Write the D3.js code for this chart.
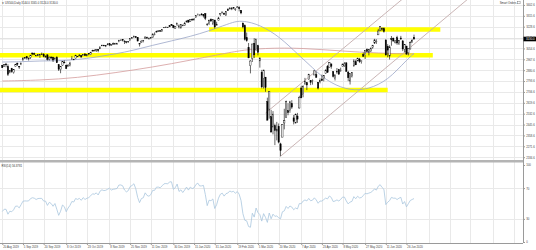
<!DOCTYPE html>
<html>
<head>
<meta charset="utf-8">
<script src="https://cdn.jsdelivr.net/npm/d3@7"></script>
<style>
  body { margin: 0; background: #fff; }
  svg { display: block; font-family: "Liberation Sans", Arial, sans-serif; }
</style>
</head>
<body>
<script>
// données : US500 journalier (bougies)
const dates = [
  "20 Aug 2019","21 Aug 2019","22 Aug 2019","23 Aug 2019","26 Aug 2019","27 Aug 2019","28 Aug 2019","29 Aug 2019","30 Aug 2019",
  "3 Sep 2019","4 Sep 2019","5 Sep 2019","6 Sep 2019","9 Sep 2019","10 Sep 2019","11 Sep 2019","12 Sep 2019","13 Sep 2019","16 Sep 2019","17 Sep 2019","18 Sep 2019","19 Sep 2019","20 Sep 2019","23 Sep 2019","24 Sep 2019","25 Sep 2019","26 Sep 2019","27 Sep 2019","30 Sep 2019",
  "1 Oct 2019","2 Oct 2019","3 Oct 2019","4 Oct 2019","7 Oct 2019","8 Oct 2019","9 Oct 2019","10 Oct 2019","11 Oct 2019","14 Oct 2019","15 Oct 2019","16 Oct 2019","17 Oct 2019","18 Oct 2019","21 Oct 2019","22 Oct 2019","23 Oct 2019","24 Oct 2019","25 Oct 2019","28 Oct 2019","29 Oct 2019","30 Oct 2019","31 Oct 2019",
  "1 Nov 2019","4 Nov 2019","5 Nov 2019","6 Nov 2019","7 Nov 2019","8 Nov 2019","11 Nov 2019","12 Nov 2019","13 Nov 2019","14 Nov 2019","15 Nov 2019","18 Nov 2019","19 Nov 2019","20 Nov 2019","21 Nov 2019","22 Nov 2019","25 Nov 2019","26 Nov 2019","27 Nov 2019","29 Nov 2019",
  "2 Dec 2019","3 Dec 2019","4 Dec 2019","5 Dec 2019","6 Dec 2019","9 Dec 2019","10 Dec 2019","11 Dec 2019","12 Dec 2019","13 Dec 2019","16 Dec 2019","17 Dec 2019","18 Dec 2019","19 Dec 2019","20 Dec 2019","23 Dec 2019","24 Dec 2019","26 Dec 2019","27 Dec 2019","30 Dec 2019","31 Dec 2019",
  "2 Jan 2020","3 Jan 2020","6 Jan 2020","7 Jan 2020","8 Jan 2020","9 Jan 2020","10 Jan 2020","13 Jan 2020","14 Jan 2020","15 Jan 2020","16 Jan 2020","17 Jan 2020","21 Jan 2020","22 Jan 2020","23 Jan 2020","24 Jan 2020","27 Jan 2020","28 Jan 2020","29 Jan 2020","30 Jan 2020","31 Jan 2020",
  "3 Feb 2020","4 Feb 2020","5 Feb 2020","6 Feb 2020","7 Feb 2020","10 Feb 2020","11 Feb 2020","12 Feb 2020","13 Feb 2020","14 Feb 2020","18 Feb 2020","19 Feb 2020","20 Feb 2020","21 Feb 2020","24 Feb 2020","25 Feb 2020","26 Feb 2020","27 Feb 2020","28 Feb 2020",
  "2 Mar 2020","3 Mar 2020","4 Mar 2020","5 Mar 2020","6 Mar 2020","9 Mar 2020","10 Mar 2020","11 Mar 2020","12 Mar 2020","13 Mar 2020","16 Mar 2020","17 Mar 2020","18 Mar 2020","19 Mar 2020","20 Mar 2020","23 Mar 2020","24 Mar 2020","25 Mar 2020","26 Mar 2020","27 Mar 2020","30 Mar 2020","31 Mar 2020",
  "1 Apr 2020","2 Apr 2020","3 Apr 2020","6 Apr 2020","7 Apr 2020","8 Apr 2020","9 Apr 2020","13 Apr 2020","14 Apr 2020","15 Apr 2020","16 Apr 2020","17 Apr 2020","20 Apr 2020","21 Apr 2020","22 Apr 2020","23 Apr 2020","24 Apr 2020","27 Apr 2020","28 Apr 2020","29 Apr 2020","30 Apr 2020",
  "1 May 2020","4 May 2020","5 May 2020","6 May 2020","7 May 2020","8 May 2020","11 May 2020","12 May 2020","13 May 2020","14 May 2020","15 May 2020","18 May 2020","19 May 2020","20 May 2020","21 May 2020","22 May 2020","26 May 2020","27 May 2020","28 May 2020","29 May 2020",
  "1 Jun 2020","2 Jun 2020","3 Jun 2020","4 Jun 2020","5 Jun 2020","8 Jun 2020","9 Jun 2020","10 Jun 2020","11 Jun 2020","12 Jun 2020","15 Jun 2020","16 Jun 2020","17 Jun 2020","18 Jun 2020","19 Jun 2020","22 Jun 2020","23 Jun 2020","24 Jun 2020","25 Jun 2020","26 Jun 2020","29 Jun 2020","30 Jun 2020",
  "1 Jul 2020","2 Jul 2020"
]

const opens = [
  2919,2912,2930,2911,2866,2893,2861,2910,2937,
  2909,2924,2961,2980,2989,2971,2982,3018,3013,2997,2995,3002,3010,3008,2984,3003,2969,2986,2985,2968,
  2984,2924,2885,2918,2945,2920,2912,2918,2964,2966,2974,2990,3001,2997,2997,3011,2995,3014,3004,3032,3036,3039,3047,
  3051,3078,3080,3075,3088,3082,3081,3089,3084,3091,3108,3118,3128,3114,3108,3112,3117,3135,3145,3148,
  3143,3087,3103,3119,3135,3141,3135,3136,3141,3167,3183,3195,3196,3192,3224,3226,3225,3227,3247,3240,3215,
  3245,3226,3218,3241,3238,3266,3281,3271,3285,3282,3302,3324,3321,3330,3315,3334,3247,3255,3289,3256,3282,
  3236,3280,3324,3344,3335,3319,3365,3370,3365,3379,3369,3380,3380,3360,3258,3238,3140,3063,2916,
  2974,3096,3045,3076,2955,2864,2814,2825,2630,2569,2509,2426,2436,2394,2431,2291,2345,2458,2501,2556,2559,2614,
  2499,2458,2514,2578,2738,2685,2776,2782,2805,2796,2799,2842,2845,2784,2787,2810,2812,2854,2909,2901,2931,
  2869,2815,2869,2884,2879,2909,2915,2939,2865,2794,2829,2913,2948,2954,2970,2948,3005,3004,3046,3025,
  3032,3064,3098,3112,3163,3199,3213,3213,3123,3071,2994,3132,3137,3101,3140,3095,3138,3115,3047,3074,3019,3050,
  3105,3144
]

const highs = [
  2923,2928,2939,2928,2880,2899,2890,2931,2940,
  2914,2939,2986,2985,2990,2979,3001,3020,3021,3003,3007,3008,3022,3017,2999,3008,2990,2990,2988,2984,
  2993,2925,2911,2953,2959,2926,2930,2948,2993,2972,3004,2994,3009,3001,3008,3014,3005,3016,3028,3044,3047,3050,3047,
  3067,3085,3084,3079,3098,3094,3088,3102,3099,3097,3121,3125,3128,3119,3110,3113,3134,3142,3154,3150,
  3145,3094,3120,3120,3150,3149,3143,3144,3176,3183,3197,3198,3198,3206,3226,3228,3226,3240,3248,3241,3232,
  3258,3247,3247,3245,3267,3276,3283,3288,3295,3298,3317,3330,3329,3337,3327,3334,3258,3286,3294,3286,3282,
  3268,3307,3337,3347,3341,3352,3376,3381,3386,3381,3375,3394,3392,3360,3260,3247,3182,3098,2960,
  3091,3137,3130,3084,2985,2883,2883,2825,2661,2711,2563,2553,2453,2467,2454,2300,2450,2572,2637,2616,2635,2641,
  2522,2534,2539,2676,2756,2760,2819,2782,2852,2801,2807,2880,2868,2785,2815,2845,2842,2888,2922,2945,2931,
  2869,2845,2898,2891,2901,2932,2945,2944,2875,2852,2865,2968,2965,2981,2979,2957,3022,3037,3055,3050,
  3063,3081,3131,3128,3211,3233,3223,3223,3123,3089,3080,3154,3141,3121,3156,3122,3155,3120,3086,3074,3054,3112,
  3129,3165
]

const lows = [
  2899,2911,2904,2834,2856,2860,2853,2910,2914,
  2891,2921,2961,2972,2966,2958,2971,3001,3004,2991,2994,2979,3003,2984,2983,2958,2958,2966,2946,2968,
  2938,2874,2856,2914,2935,2892,2908,2911,2963,2962,2974,2986,2992,2981,2995,2996,2993,3000,3001,3032,3034,3026,3024,
  3051,3074,3072,3065,3080,3073,3076,3085,3083,3082,3104,3115,3111,3090,3095,3098,3117,3131,3143,3139,
  3110,3070,3102,3103,3134,3135,3125,3133,3138,3159,3183,3191,3191,3191,3217,3221,3220,3227,3235,3216,3213,
  3235,3214,3215,3232,3236,3263,3261,3268,3278,3280,3302,3318,3316,3320,3302,3281,3235,3243,3271,3242,3214,
  3236,3280,3313,3334,3322,3317,3355,3369,3361,3369,3355,3379,3351,3328,3215,3118,3108,2977,2855,
  2946,2977,3035,2999,2901,2735,2734,2708,2478,2493,2380,2367,2281,2319,2295,2192,2345,2407,2500,2520,2540,2571,
  2447,2455,2459,2574,2657,2664,2762,2721,2805,2761,2765,2842,2821,2727,2775,2794,2791,2852,2860,2901,2892,
  2822,2798,2852,2847,2867,2908,2908,2870,2793,2766,2822,2913,2922,2954,2939,2933,2988,2970,3022,2999,
  3031,3052,3090,3091,3163,3193,3193,3181,2999,2984,2966,3076,3109,3094,3084,3082,3122,3033,3024,3005,2999,3047,
  3101,3124
]

const closes = [
  2900,2924,2923,2847,2878,2869,2888,2925,2927,
  2906,2938,2976,2979,2978,2979,3001,3010,3007,2998,3006,3007,3007,2992,2992,2967,2985,2978,2962,2977,
  2940,2888,2911,2952,2939,2893,2919,2938,2970,2966,2996,2990,2998,2986,3007,2996,3005,3010,3023,3039,3037,3047,3038,
  3067,3078,3075,3077,3085,3093,3087,3092,3094,3097,3121,3122,3120,3109,3104,3110,3134,3141,3154,3141,
  3114,3093,3113,3117,3146,3136,3133,3142,3169,3169,3192,3193,3191,3205,3221,3224,3223,3240,3240,3221,3231,
  3258,3235,3246,3237,3253,3275,3265,3288,3283,3289,3317,3330,3321,3322,3326,3296,3244,3276,3273,3284,3226,
  3249,3298,3335,3346,3328,3352,3358,3379,3374,3380,3370,3386,3373,3338,3226,3128,3116,2979,2954,
  3090,3003,3130,3024,2972,2747,2882,2741,2481,2711,2386,2529,2398,2409,2305,2237,2447,2476,2630,2541,2627,2585,
  2471,2527,2489,2664,2659,2750,2790,2762,2846,2783,2800,2875,2823,2737,2799,2798,2837,2879,2863,2940,2912,
  2831,2843,2868,2848,2881,2930,2930,2870,2820,2853,2864,2954,2923,2972,2949,2955,2992,3036,3030,3044,
  3056,3081,3123,3112,3194,3232,3207,3190,3002,3041,3067,3125,3114,3115,3098,3118,3131,3050,3084,3009,3053,3100,
  3116,3130
]

// clôtures avant le début du graphique (pour le RSI)
const closesAvant = [3013.2,2980.4,2953.6,2932.1,2844.7,2881.8,2884.0,2938.1,2918.7,2882.7,2926.3,2840.6,2847.6,2888.7,2923.7]

// moyennes mobiles (indice de barre, prix)
const maBleueIdx = [0,10,20,30,40,50,60,70,80,90,100,110,120,125,130,135,140,145,150,155,160,165,170,175,180,185,190,195,200,205,210,215,219]
const maBleueVal = [2946,2948,2955,2955,2965,2985,3010,3040,3080,3115,3150,3195,3250,3275,3270,3250,3215,3170,3110,3040,2970,2900,2830,2780,2745,2725,2722,2735,2765,2810,2880,2960,3015]
const maRougeIdx = [0,20,40,60,80,100,120,130,140,150,160,170,180,190,200,210,219]
const maRougeVal = [2794,2800,2820,2860,2905,2960,3020,3045,3055,3058,3055,3045,3035,3025,3018,3012,3010]

// niveaux jaunes (prix, barre de début, barre de fin)
const niveauxPrix = [3206, 3000, 2722]
const niveauxDebut = [110, -3, -3]
const niveauxFin = [233, 229, 205]

// canal haussier (barre, prix)
const canalBas = [[148, 2192], [190, 2722]]
const canalHaut = [[140, 2537], [182, 3063]]

// graduations
const prixTicks = [3402.6,3315.6,3228.6,3141.6,3054.6,2967.6,2880.6,2793.6,2706.6,2619.6,2532.6,2445.6,2358.6,2271.6,2184.6]
const rsiTicks = [0, 30, 70, 100]
const datesTicks = ["20 Aug 2019","5 Sep 2019","20 Sep 2019","8 Oct 2019","23 Oct 2019","8 Nov 2019","25 Nov 2019","11 Dec 2019","30 Dec 2019","15 Jan 2020","31 Jan 2020","19 Feb 2020","5 Mar 2020","20 Mar 2020","7 Apr 2020","23 Apr 2020","8 May 2020","27 May 2020","11 Jun 2020","26 Jun 2020"]
const grilleFutur = [227, 238, 249, 261, 272]


//Dimensions
let width = 536, height = 250
let droite = 523
let prixHaut = 0, prixBas = 158
let rsiHaut = 165, rsiBas = 242
let axeBas = 243

let svg = d3.select("body")
    .append("svg")
    .attr("width", width)
    .attr("height", height)

const n = closes.length
const barres = d3.range(n)

//Echelles
let x = d3.scaleLinear()
    .domain([0, n - 1])
    .range([2.3, 414])

let y = d3.scaleLinear()
    .domain([2178, 3442])
    .range([prixBas, prixHaut])

let yRsi = d3.scaleLinear()
    .domain([0, 100])
    .range([rsiBas, rsiHaut])

//Calcul du RSI(14), lissage de Wilder
const toutes = closesAvant.concat(closes)
let moyG = 0, moyP = 0
for (let k = 1; k <= 14; k++) {
    let dif = toutes[k] - toutes[k - 1]
    if (dif > 0) moyG += dif; else moyP -= dif
}
moyG /= 14; moyP /= 14
const rsi = []
for (let k = 15; k < toutes.length; k++) {
    let dif = toutes[k] - toutes[k - 1]
    moyG = (moyG * 13 + Math.max(dif, 0)) / 14
    moyP = (moyP * 13 + Math.max(-dif, 0)) / 14
    rsi.push(moyP === 0 ? 100 : 100 - 100 / (1 + moyG / moyP))
}

let defs = svg.append("defs")
defs.append("clipPath").attr("id", "clipPrix")
    .append("rect").attr("x", 0).attr("y", prixHaut).attr("width", droite).attr("height", prixBas - prixHaut)
defs.append("clipPath").attr("id", "clipRsi")
    .append("rect").attr("x", 0).attr("y", rsiHaut - 2).attr("width", droite).attr("height", rsiBas - rsiHaut + 3)

const tickIdx = datesTicks.map(d => dates.indexOf(d))
const grilleX = tickIdx.concat(grilleFutur)

//Grille
let grille = svg.append("g").attr("stroke", "#e9e9e9").attr("stroke-width", 1).attr("shape-rendering", "crispEdges")
grille.selectAll("v").data(grilleX).enter().append("line")
    .attr("x1", d => Math.round(x(d)) + 0.5).attr("x2", d => Math.round(x(d)) + 0.5)
    .attr("y1", prixHaut).attr("y2", axeBas)
grille.selectAll("h").data(prixTicks).enter().append("line")
    .attr("x1", 0).attr("x2", droite)
    .attr("y1", d => Math.round(y(d)) + 0.5).attr("y2", d => Math.round(y(d)) + 0.5)
grille.selectAll("hr").data([30, 70]).enter().append("line")
    .attr("x1", 0).attr("x2", droite)
    .attr("y1", d => Math.round(yRsi(d)) + 0.5).attr("y2", d => Math.round(yRsi(d)) + 0.5)

let prix = svg.append("g").attr("clip-path", "url(#clipPrix)")

//Niveaux jaunes
prix.selectAll("niveaux").data(niveauxPrix).enter().append("line")
    .attr("x1", (d, i) => x(niveauxDebut[i]))
    .attr("x2", (d, i) => x(niveauxFin[i]))
    .attr("y1", d => y(d)).attr("y2", d => y(d))
    .attr("stroke", "#ffff00")
    .attr("stroke-width", 4.5)

//Ligne du prix actuel
prix.append("line")
    .attr("x1", 0).attr("x2", droite)
    .attr("y1", y(closes[n - 1])).attr("y2", y(closes[n - 1]))
    .attr("stroke", "#d8d8d8").attr("stroke-width", 0.6)

//Canal
function demiDroite(pts) {
    let pente = (pts[1][1] - pts[0][1]) / (pts[1][0] - pts[0][0])
    let fin = pts[0][0] + 140
    return [x(pts[0][0]), y(pts[0][1]), x(fin), y(pts[0][1] + pente * 140)]
}
prix.selectAll("canal").data([canalBas, canalHaut]).enter().append("line")
    .attr("x1", d => demiDroite(d)[0]).attr("y1", d => demiDroite(d)[1])
    .attr("x2", d => demiDroite(d)[2]).attr("y2", d => demiDroite(d)[3])
    .attr("stroke", "#c4adad").attr("stroke-width", 0.9)

//Moyennes mobiles
let ligneMa = d3.line().x(d => x(d[0])).y(d => y(d[1])).curve(d3.curveBasis)
prix.append("path")
    .datum(maRougeIdx.map((d, i) => [d, maRougeVal[i]]))
    .attr("d", ligneMa).attr("fill", "none")
    .attr("stroke", "#d49c9c").attr("stroke-width", 0.8)
prix.append("path")
    .datum(maBleueIdx.map((d, i) => [d, maBleueVal[i]]))
    .attr("d", ligneMa).attr("fill", "none")
    .attr("stroke", "#9aa6c8").attr("stroke-width", 0.8)

//Bougies
prix.selectAll("meches").data(barres).enter().append("line")
    .attr("x1", i => x(i)).attr("x2", i => x(i))
    .attr("y1", i => y(highs[i])).attr("y2", i => y(lows[i]))
    .attr("stroke", "#000").attr("stroke-width", 0.6)
prix.selectAll("corps").data(barres).enter().append("rect")
    .attr("x", i => x(i) - 0.65)
    .attr("width", 1.3)
    .attr("y", i => y(Math.max(opens[i], closes[i])))
    .attr("height", i => Math.max(0.4, Math.abs(y(opens[i]) - y(closes[i]))))
    .attr("fill", i => closes[i] >= opens[i] ? "#fff" : "#000")
    .attr("stroke", "#000").attr("stroke-width", 0.4)

//RSI
svg.append("path")
    .datum(rsi)
    .attr("clip-path", "url(#clipRsi)")
    .attr("d", d3.line().x((d, i) => x(i)).y(d => yRsi(d)))
    .attr("fill", "none")
    .attr("stroke", "#a9c7de").attr("stroke-width", 0.8)

//Séparateur et bordures
svg.append("rect").attr("x", 0).attr("y", 160).attr("width", droite).attr("height", 2.5).attr("fill", "#b4b4b4")
svg.append("line").attr("x1", 0).attr("x2", droite).attr("y1", axeBas + 0.5).attr("y2", axeBas + 0.5)
    .attr("stroke", "#9a9a9a").attr("stroke-width", 1)

//Axes
function styleAxe(g) {
    g.select(".domain").attr("stroke", "#9a9a9a")
    g.selectAll(".tick line").attr("stroke", "#9a9a9a")
    g.selectAll("text").style("font-size", "2.8px").attr("fill", "#444")
}

svg.append("g")
    .attr("transform", "translate(" + (droite + 0.5) + ",0)")
    .call(d3.axisRight(y).tickValues(prixTicks).tickSize(1.5).tickPadding(1.2).tickFormat(d3.format(".1f")))
    .call(g => g.select(".domain").attr("d", "M0," + prixHaut + "V" + (prixBas + 2)))
    .call(styleAxe)

svg.append("g")
    .attr("transform", "translate(" + (droite + 0.5) + ",0)")
    .call(d3.axisRight(yRsi).tickValues(rsiTicks).tickSize(1.5).tickPadding(1.2).tickFormat(d3.format("d")))
    .call(g => g.select(".domain").attr("d", "M0," + 160 + "V" + axeBas))
    .call(styleAxe)

svg.append("g")
    .attr("transform", "translate(0," + (axeBas + 0.5) + ")")
    .call(d3.axisBottom(x).tickValues(tickIdx).tickSize(1.5).tickPadding(1).tickFormat(i => dates[i]))
    .call(g => g.select(".domain").remove())
    .call(styleAxe)
    .selectAll("text")
    .attr("text-anchor", "start")
    .attr("dx", "0.4")

//Etiquette du prix actuel
let dernier = closes[n - 1]
svg.append("rect")
    .attr("x", droite + 0.5).attr("y", y(dernier) - 2.3)
    .attr("width", width - droite).attr("height", 4.6)
    .attr("fill", "#000")
svg.append("text")
    .text(dernier.toFixed(1))
    .attr("x", droite + 3).attr("y", y(dernier) + 1)
    .style("font-size", "2.8px").attr("fill", "#fff")

//Textes
svg.append("text")
    .text("\u25BC US500,Daily  " + [opens[n - 1], highs[n - 1], lows[n - 1], closes[n - 1]].map(d => d.toFixed(1)).join(" "))
    .attr("x", 1.5).attr("y", 3.5)
    .style("font-size", "2.8px").attr("fill", "#333")

svg.append("text")
    .text("RSI(14) " + rsi[rsi.length - 1].toFixed(4))
    .attr("x", 1.5).attr("y", 166.5)
    .style("font-size", "2.8px").attr("fill", "#333")

svg.append("text")
    .text("Smart Orders")
    .attr("text-anchor", "end")
    .attr("x", 516.5).attr("y", 3.5)
    .style("font-size", "2.8px").attr("fill", "#333")
svg.append("rect")
    .attr("x", 517.5).attr("y", 1.2).attr("width", 2.6).attr("height", 2.6)
    .attr("fill", "none").attr("stroke", "#666").attr("stroke-width", 0.4)
</script>
</body>
</html>
